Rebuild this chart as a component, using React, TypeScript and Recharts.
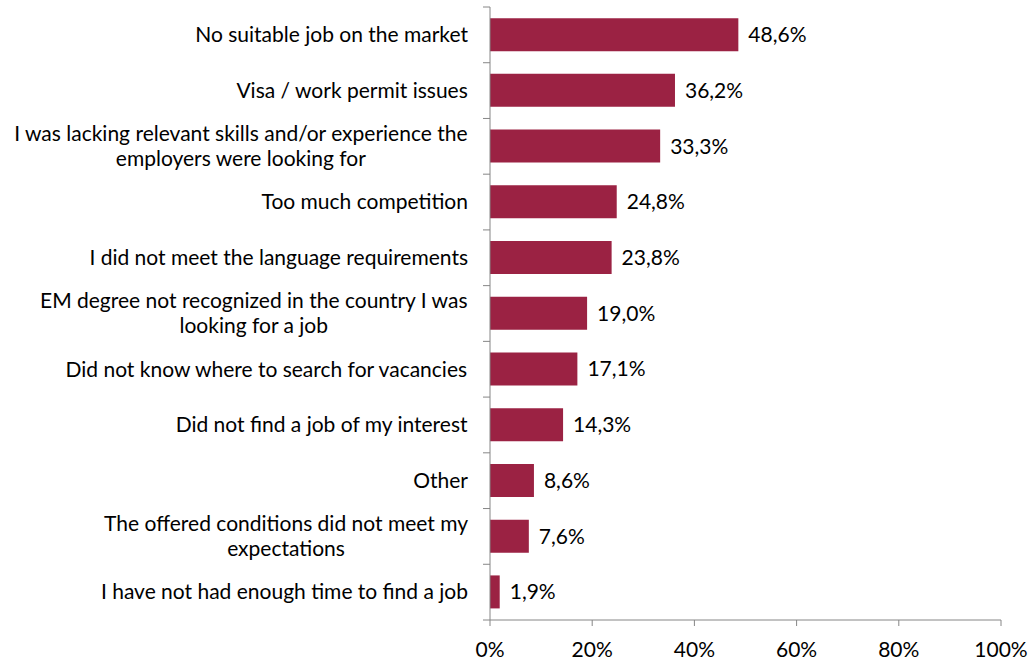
import { BarChart, Bar, XAxis, YAxis, LabelList } from 'recharts';

// reasons, top to bottom
const reasons = [
  'No suitable job on the market',
  'Visa / work permit issues',
  'I was lacking relevant skills and/or experience the\nemployers were looking for',
  'Too much competition',
  'I did not meet the language requirements',
  'EM degree not recognized in the country I was\nlooking for a job',
  'Did not know where to search for vacancies',
  'Did not find a job of my interest',
  'Other',
  'The offered conditions did not meet my\nexpectations',
  'I have not had enough time to find a job',
];
const shares = [48.6, 36.2, 33.3, 24.8, 23.8, 19.0, 17.1, 14.3, 8.6, 7.6, 1.9];
const xTicks = [0, 20, 40, 60, 80, 100];

const data = reasons.map((label, i) => ({ label, value: shares[i] }));

const FONT = 'Lato, "Liberation Sans", sans-serif';
const FONT_SIZE = 21;
const BAR_COLOR = '#9B2243';
const AXIS_COLOR = '#868686';

let ctx: CanvasRenderingContext2D | null = null;
function textWidth(s: string) {
  if (!ctx) ctx = document.createElement('canvas').getContext('2d');
  if (!ctx) return s.length * 9;
  ctx.font = `${FONT_SIZE}px Lato`;
  return ctx.measureText(s).width;
}

// Excel style wrapped label: lines centred inside a right aligned block,
// plus tick marks on the band edges instead of the band centre
function ReasonTick(props: any) {
  const { x, y, payload, index, visibleTicksCount } = props;
  const half = payload.offset || 0;
  const lines: string[] = String(payload.value).split('\n');
  const w = Math.max(...lines.map(textWidth));
  const cx = x - 22 - w / 2;
  const lh = 25;
  const top = y - ((lines.length - 1) * lh) / 2;
  return (
    <g>
      <line x1={x - 7} x2={x} y1={y - half} y2={y - half} stroke={AXIS_COLOR} />
      {index === visibleTicksCount - 1 && (
        <line x1={x - 7} x2={x} y1={y + half} y2={y + half} stroke={AXIS_COLOR} />
      )}
      <text textAnchor="middle" fontFamily={FONT} fontSize={FONT_SIZE} fill="#000">
        {lines.map((l, i) => (
          <tspan key={i} x={cx} y={top + i * lh} dy="0.35em">
            {l}
          </tspan>
        ))}
      </text>
    </g>
  );
}

const fmt = (v: any) => Number(v).toFixed(1).replace('.', ',') + '%';

export default function App() {
  return (
    <div style={{ position: 'absolute', left: 0, top: 0, background: '#fff' }}>
      <BarChart
        width={1029}
        height={661}
        data={data}
        layout="vertical"
        margin={{ top: 7, right: 28, bottom: 0, left: 0 }}
        barCategoryGap="20%"
      >
        <XAxis
          type="number"
          domain={[0, 100]}
          ticks={xTicks}
          tickFormatter={(v) => `${v}%`}
          height={41}
          tickSize={6}
          tickMargin={16}
          stroke={AXIS_COLOR}
          tick={{ fill: '#000', fontSize: FONT_SIZE, fontFamily: FONT }}
        />
        <YAxis
          type="category"
          dataKey="label"
          width={490}
          stroke={AXIS_COLOR}
          tickLine={false}
          tickSize={0}
          tickMargin={0}
          interval={0}
          tick={<ReasonTick />}
        />
        <Bar dataKey="value" fill={BAR_COLOR} isAnimationActive={false}>
          <LabelList
            dataKey="value"
            position="right"
            offset={10}
            formatter={fmt}
            fill="#000"
            fontSize={FONT_SIZE}
            fontFamily={FONT}
          />
        </Bar>
      </BarChart>
    </div>
  );
}
